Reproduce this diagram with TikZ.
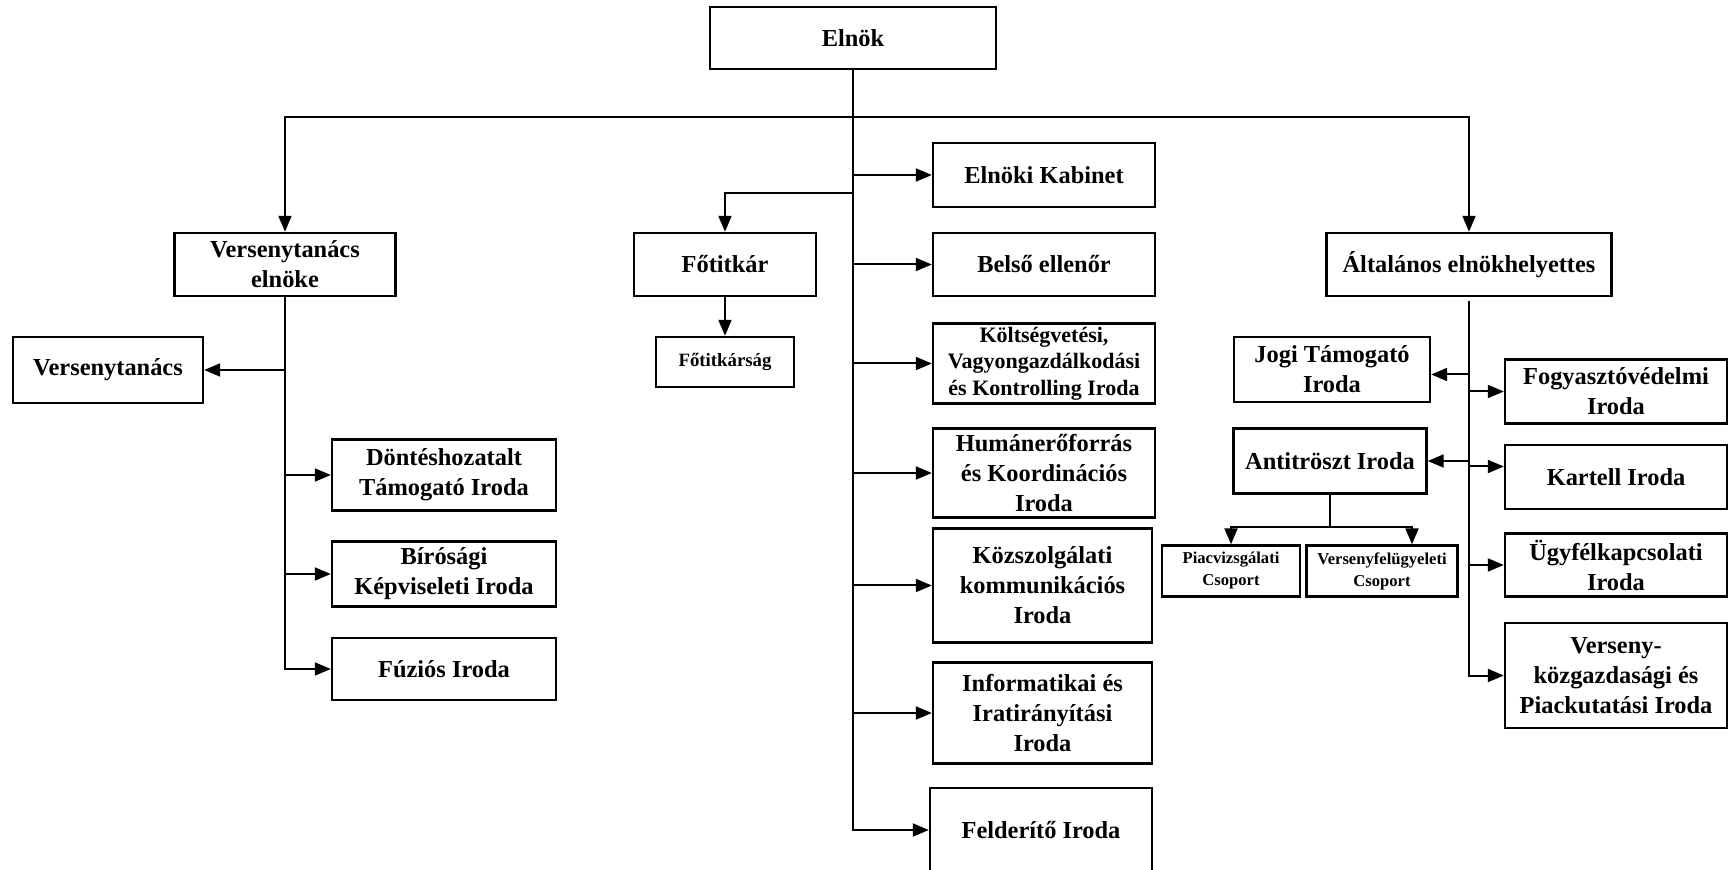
\documentclass[tikz,border=0pt]{standalone}
\usepackage{fontspec}
\setmainfont{Liberation Serif}
\usetikzlibrary{arrows.meta,calc,positioning}
\newcommand{\orgfont}{\bfseries\fontsize{12.2}{15}\selectfont}
\newcommand{\midorgfont}{\bfseries\fontsize{11}{13.2}\selectfont}
\newcommand{\smallorgfont}{\bfseries\fontsize{9.4}{11}\selectfont}
\newcommand{\tinyorgfont}{\bfseries\fontsize{8.3}{11}\selectfont}
\tikzset{
	wh/.style 2 args={minimum width=#1*0.5pt, minimum height=#2*0.5pt},
	conn/.style={->, line width=1pt}
}

\begin{document}
\begin{tikzpicture}[x=0.5pt, y=-0.5pt, >={Triangle[length=8pt,width=6.5pt]}]
		\tikzstyle{office} = [draw, line width=1.2pt, rectangle, align=center,
		inner sep=1pt, font=\orgfont]
		\useasboundingbox (0,0) rectangle (1728,870);
		\clip (0,0) rectangle (1728,870);
		% felso szint es az elnok alatti egysegek
		\path
		node[office, wh={286}{62}] (elnok) at (853,38) {Elnök}
		node[office, wh={221}{63}] (vtelnoke) at (285,264.5) {Versenytanács\\elnöke}
		node[office, wh={182}{63}] (fotitkar) at (725,264.5) {Főtitkár}
		node[office, wh={138}{50}, font=\smallorgfont] (fotitkarsag) at (725,362) {Főtitkárság}
		node[office, wh={285}{63}] (altalanos) at (1469,264.5) {Általános elnökhelyettes}
		node[office, wh={222}{64}] (kabinet) at (1044,175) {Elnöki Kabinet}
		node[office, wh={222}{63}] (belso) at (1044,264.5) {Belső ellenőr}
		node[office, wh={222}{80}, font=\midorgfont] (koltseg) at (1044,363.5) {Költségvetési,\\Vagyongazdálkodási\\és Kontrolling Iroda}
		node[office, wh={222}{89}] (human) at (1044,473) {Humánerőforrás\\és Koordinációs\\Iroda}
		node[office, wh={219}{114}] (kozszolg) at (1042.5,585.5) {Közszolgálati\\kommunikációs\\Iroda}
		node[office, wh={219}{101}] (inform) at (1042.5,713) {Informatikai és\\Iratirányítási\\Iroda}
		node[office, wh={222}{84}] (felderito) at (1041,830) {Felderítő Iroda};
		% versenytanacs elnoke alatt
		\path
		node[office, wh={190}{66}] (versenytanacs) at (108,370) {Versenytanács}
		node[office, wh={224}{71}] (dontes) at (444,475) {Döntéshozatalt\\Támogató Iroda}
		node[office, wh={224}{65}] (birosagi) at (444,574) {Bírósági\\Képviseleti Iroda}
		node[office, wh={224}{62}] (fuzios) at (444,669) {Fúziós Iroda};
		% altalanos elnokhelyettes alatt
		\path
		node[office, wh={196}{65}] (jogi) at (1332,369.5) {Jogi Támogató\\Iroda}
		node[office, wh={193}{65}] (antitroszt) at (1330,461) {Antitröszt Iroda}
		node[office, wh={138}{51}, font=\tinyorgfont] (piacvizsg) at (1231,571) {Piacvizsgálati\\Csoport}
		node[office, wh={151}{51}, font=\tinyorgfont] (versenyfel) at (1382,571) {Versenyfelügyeleti\\Csoport}
		node[office, wh={222}{64}] (fogyaszto) at (1616,391.5) {Fogyasztóvédelmi\\Iroda}
		node[office, wh={222}{64}] (kartell) at (1616,477) {Kartell Iroda}
		node[office, wh={222}{63}] (ugyfel) at (1616,565) {Ügyfélkapcsolati\\Iroda}
		node[office, wh={222}{105}] (piackut) at (1616,675.5) {Verseny-\\közgazdasági és\\Piackutatási Iroda};
		\coordinate (fork) at (853,117);
		\coordinate (ftfork) at (853,193);
		% osszekotesek
		\draw[conn] (elnok.south) |- (felderito.west);
		\draw[conn] (fork) -| (vtelnoke.north);
		\draw[conn] (fork) -| (altalanos.north);
		\draw[conn] (ftfork) -| (fotitkar.north);
		\path[conn]
		(fotitkar) edge (fotitkarsag)
		(elnok.south |- kabinet.west) edge (kabinet.west)
		(elnok.south |- belso.west) edge (belso.west)
		(elnok.south |- koltseg.west) edge (koltseg.west)
		(elnok.south |- human.west) edge (human.west)
		(elnok.south |- kozszolg.west) edge (kozszolg.west)
		(elnok.south |- inform.west) edge (inform.west);
		\draw[conn] (vtelnoke.south) |- (fuzios.west);
		\path[conn]
		(vtelnoke.south |- versenytanacs.east) edge (versenytanacs.east)
		(vtelnoke.south |- dontes.west) edge (dontes.west)
		(vtelnoke.south |- birosagi.west) edge (birosagi.west);
		\draw[conn, shorten <=2pt] (altalanos.south) |- (piackut.west);
		\path[conn]
		(altalanos.south |- jogi.east) ++(0,5) edge ([yshift=-2.5pt]jogi.east)
		(altalanos.south |- antitroszt.east) edge (antitroszt.east)
		(altalanos.south |- fogyaszto.west) edge (fogyaszto.west)
		(altalanos.south |- kartell.west) ++(0,-10.5) edge ([yshift=5.25pt]kartell.west)
		(altalanos.south |- ugyfel.west) edge (ugyfel.west);
		\draw[line width=1pt] (antitroszt.south) -- ++(0,32) coordinate (split);
		\draw[conn] (split) -| (piacvizsg.north);
		\draw[conn] (split) -| ([xshift=15pt]versenyfel.north);
\end{tikzpicture}
\end{document}
